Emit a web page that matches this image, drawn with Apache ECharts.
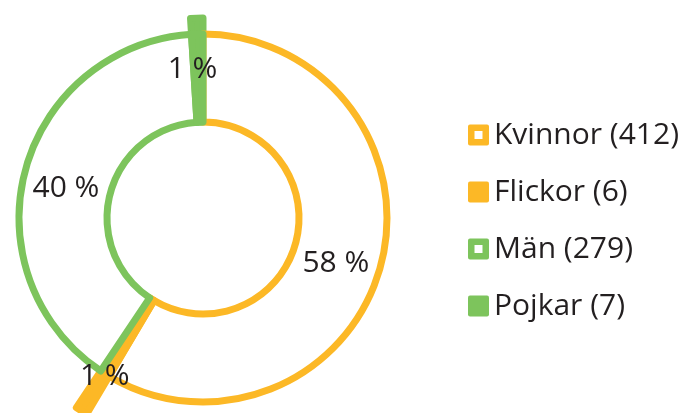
<!DOCTYPE html>
<html>
<head>
<meta charset="utf-8">
<script src="https://cdn.jsdelivr.net/npm/echarts@6/dist/echarts.min.js"></script>
<style>
  html, body { margin: 0; padding: 0; background: #fff; }
  #main { width: 689px; height: 413px; }
</style>
</head>
<body>
<div id="main"></div>
<script>
// kategorier och antal
var names = ["Kvinnor", "Flickor", "Män", "Pojkar"];
var counts = [412, 6, 279, 7];
var kcolor = ["#FCB826", "#FCB826", "#7DC45C", "#7DC45C"];
var hollow = [true, false, true, false];

// de små fyllda tårtbitarna sticker ut längre
var outerR = { 1: 228, 3: 200 };
// etikettförskjutning
var labelShift = { 0: [-5, 8], 1: [-22, 37], 2: [1, 8], 3: [-6, -6] };

var iconHollow = "path://M2,0 H19 Q21,0 21,2 V19 Q21,21 19,21 H2 Q0,21 0,19 V2 Q0,0 2,0 Z M6.5,6.5 V14.5 H14.5 V6.5 Z";
var iconFilled = "path://M2,0 H19 Q21,0 21,2 V19 Q21,21 19,21 H2 Q0,21 0,19 V2 Q0,0 2,0 Z";

var myChart = echarts.init(document.getElementById("main"));

var legendName = function(i) {
  return names[i] + " (" + counts[i] + ")";
};

var ringData = [];
var legendData = [];
for (var k = 0; k < names.length; k++) {
  ringData.push({
    name: legendName(k),
    value: counts[k],
    itemStyle: {
      color: hollow[k] ? "#fff" : kcolor[k],
      borderColor: kcolor[k],
      borderWidth: 7
    }
  });
  legendData.push({
    name: legendName(k),
    icon: hollow[k] ? iconHollow : iconFilled,
    itemStyle: { color: kcolor[k], borderWidth: 0 }
  });
}

var seriesData = [];
seriesData.push({
  name: "ring",
  type: "pie",
  z: 3,
  center: [203, 218],
  radius: [96, 184],
  startAngle: 90,
  clockwise: true,
  percentPrecision: 0,
  avoidLabelOverlap: false,
  emphasis: { disabled: true },
  label: {
    show: true,
    position: "inside",
    color: "#231f20",
    fontSize: 30,
    fontFamily: "Open Sans",
    formatter: "{d} %"
  },
  labelLine: { show: false },
  labelLayout: function(p) {
    var s = labelShift[p.dataIndex] || [0, 0];
    return { dx: s[0], dy: s[1] };
  },
  data: ringData
});

// utstickande bitar, en serie per bit
for (var j in outerR) {
  var idx = parseInt(j);
  var d = [];
  for (var m = 0; m < names.length; m++) {
    d.push({
      name: legendName(m),
      value: counts[m],
      itemStyle: m === idx
        ? { color: kcolor[m], borderColor: kcolor[m], borderWidth: 7, borderJoin: "round" }
        : { color: "rgba(0,0,0,0)", borderWidth: 0 }
    });
  }
  seriesData.push({
    name: "ut" + idx,
    type: "pie",
    z: 2,
    center: [203, 218],
    radius: [96, outerR[j]],
    startAngle: 90,
    clockwise: true,
    silent: true,
    emphasis: { disabled: true },
    label: { show: false },
    labelLine: { show: false },
    data: d
  });
}

var option = {
  animation: false,
  legend: {
    orient: "vertical",
    left: 463,
    top: 115,
    itemWidth: 21,
    itemHeight: 21,
    itemGap: 27,
    selectedMode: false,
    data: legendData,
    textStyle: {
      color: "#231f20",
      fontSize: 30,
      fontFamily: "Open Sans"
    }
  },
  series: seriesData
};

myChart.setOption(option);
</script>
</body>
</html>
